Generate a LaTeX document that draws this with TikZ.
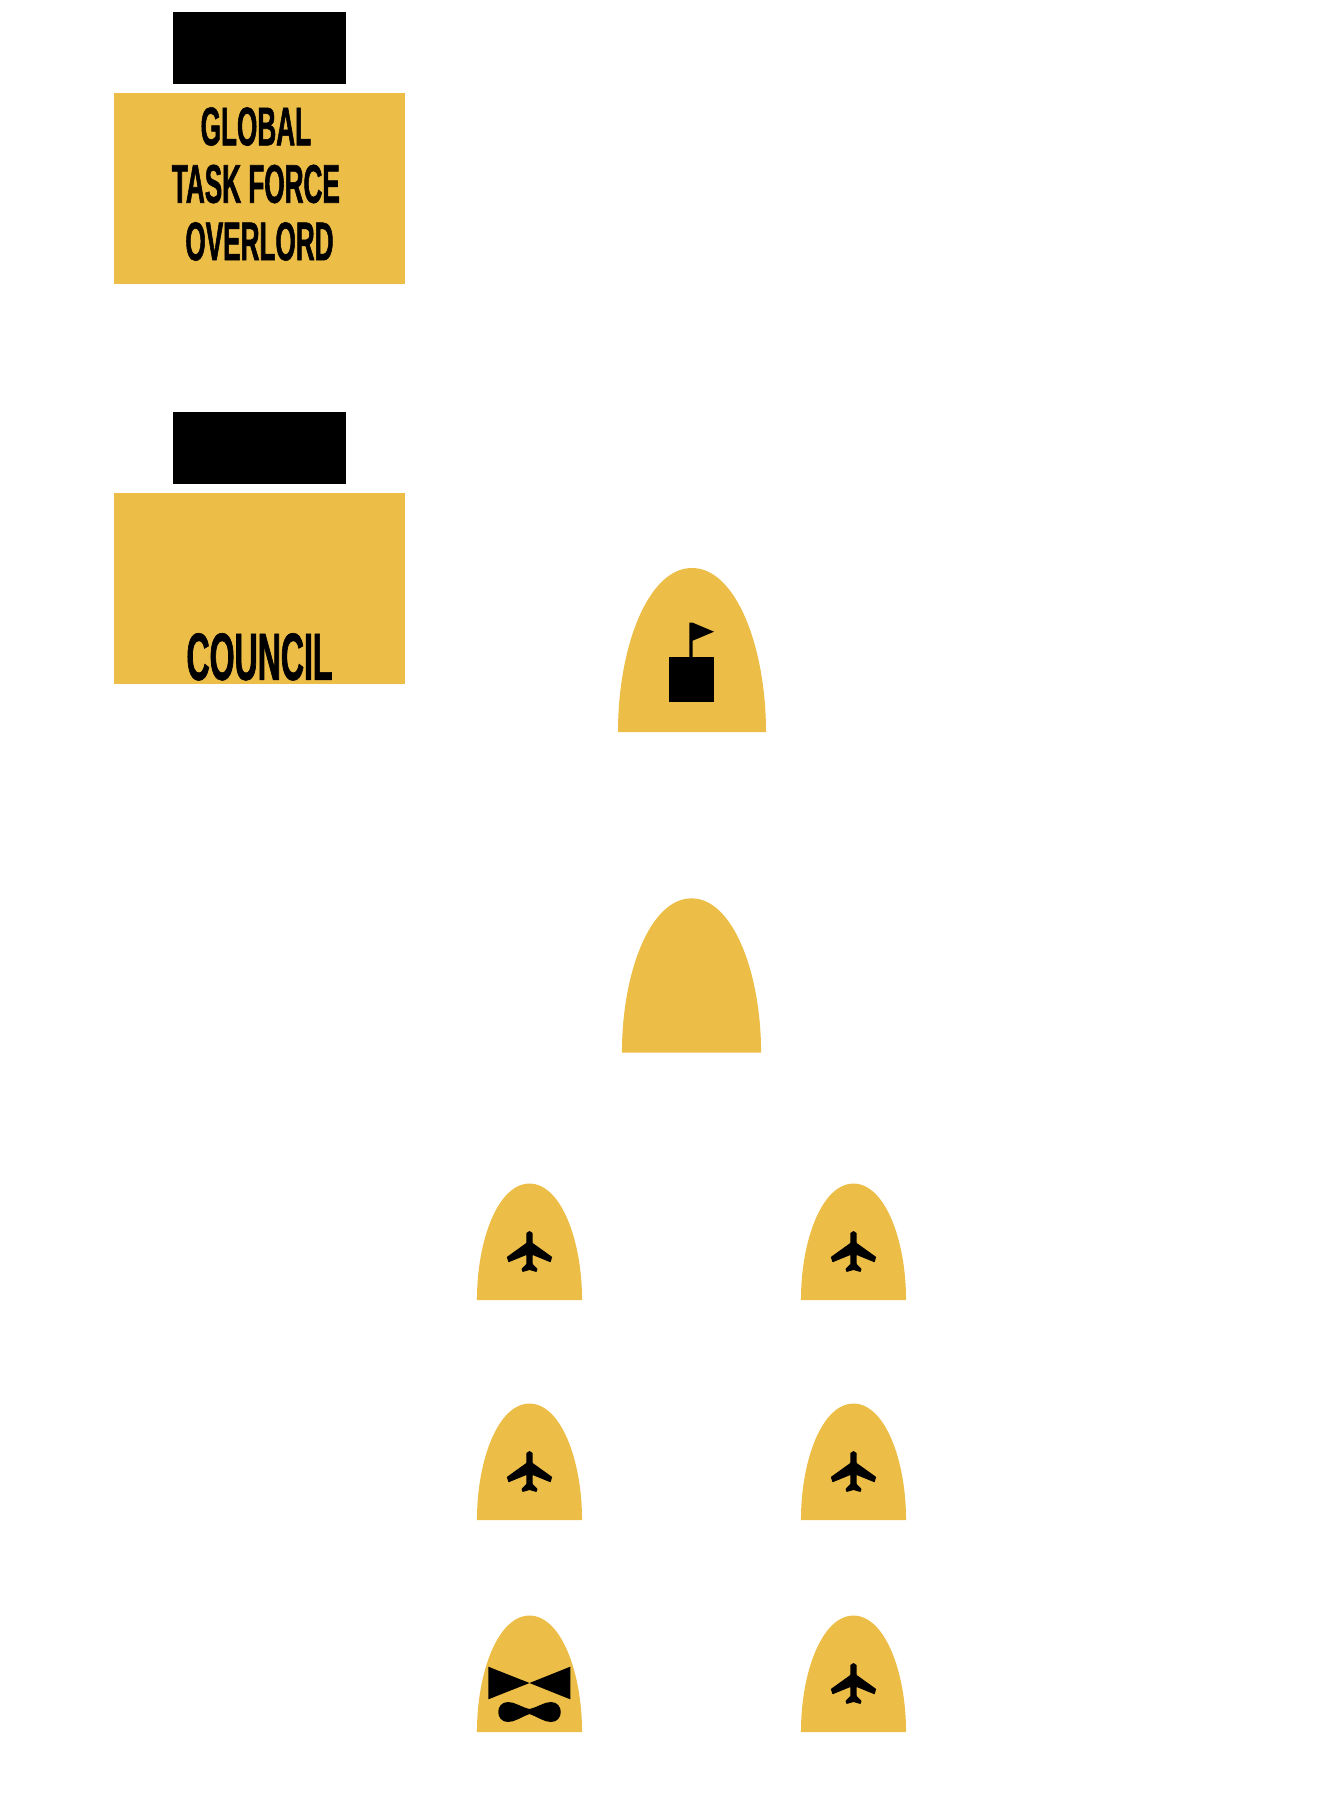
\documentclass[tikz,border=0pt]{standalone}
\usepackage{fontspec}
\usetikzlibrary{positioning}
\setmainfont[FakeStretch=0.48,FakeBold=1]{Liberation Sans Bold}
\definecolor{medal}{HTML}{ECBD47}

\begin{document}
\begin{tikzpicture}[
  x=0.02cm, y=-0.02cm,
  node distance=0.16cm,
  panel/.style={rectangle, fill=medal, minimum width=5.84cm, minimum height=3.83cm, inner sep=0pt},
  plate/.style={rectangle, fill=black, minimum width=3.46cm, minimum height=1.43cm, inner sep=0pt},
  panellabel/.style={align=center, inner sep=0pt, font=\fontsize{31}{32.7}\selectfont},
  dome/.pic={\fill[medal] (-74,0) .. controls (-74,-85) and (-44,-164) .. (0,-164)
    .. controls (44,-164) and (74,-85) .. (74,0) -- cycle;},
  plane/.pic={\fill[black, rounded corners=0.008cm] (0,-69) -- (3.2,-67) -- (3.2,-57) -- (22.7,-43) -- (21,-37.7)
    -- (3.2,-45) -- (3.2,-36) -- (8,-31) -- (7,-28) -- (0,-30) -- (-7,-28) -- (-8,-31) -- (-3.2,-36)
    -- (-3.2,-45) -- (-21,-37.7) -- (-22.7,-43) -- (-3.2,-57) -- (-3.2,-67) -- cycle;}
]
\useasboundingbox (0,0) rectangle (1323,1807);

% Panels with their plates
\node[panel] (overlord) at (259.5,188.25) {};
\node[plate, above=of overlord] (overlordplate) {};
\node[panellabel] (overlordtext) at (259.5,184) {GLOBAL\ \ \\TASK FORCE\ \ \ \\OVERLORD};

\node[panel] (council) at (259.5,588.25) {};
\node[plate, above=of council] (councilplate) {};
\node[panellabel, font=\fontsize{38}{44}\selectfont, above=0.07cm of council.south] (counciltext) {COUNCIL};

% Large domes
\pic at (692,732) {dome};
\fill[black] (669,657.3) rectangle (713.7,701.7);
\fill[black] (689.3,658) -- (689.3,622.7) -- (692.7,622.7) -- (714,631.7) -- (692.7,640.7) -- (692.7,658) -- cycle;
\pic[scale=0.94] at (691.5,1052.5) {dome};

% Small domes, left and right column
\foreach \col/\base in {529.5/1300, 529.5/1520, 853.5/1300, 853.5/1520, 853.5/1732}{
  \pic[scale=0.71] at (\col,\base) {dome};
  \pic at (\col,\base) {plane};
}
\pic[scale=0.71] at (529.5,1732) {dome};

% Bow tie on the last dome
\fill[black] (488.3,1666.7) -- (529.5,1683) -- (570.3,1666.7) -- (570.3,1699.3) -- (529.5,1683) -- (488.3,1699.3) -- cycle;
\fill[black] (529.5,1709) .. controls (521,1707) and (515,1702) .. (508,1702)
  .. controls (495,1702) and (495,1722) .. (508,1722)
  .. controls (515,1722) and (521,1717) .. (529.5,1714)
  .. controls (538,1717) and (544,1722) .. (551,1722)
  .. controls (564,1722) and (564,1702) .. (551,1702)
  .. controls (544,1702) and (538,1707) .. (529.5,1709) -- cycle;

\end{tikzpicture}
\end{document}
